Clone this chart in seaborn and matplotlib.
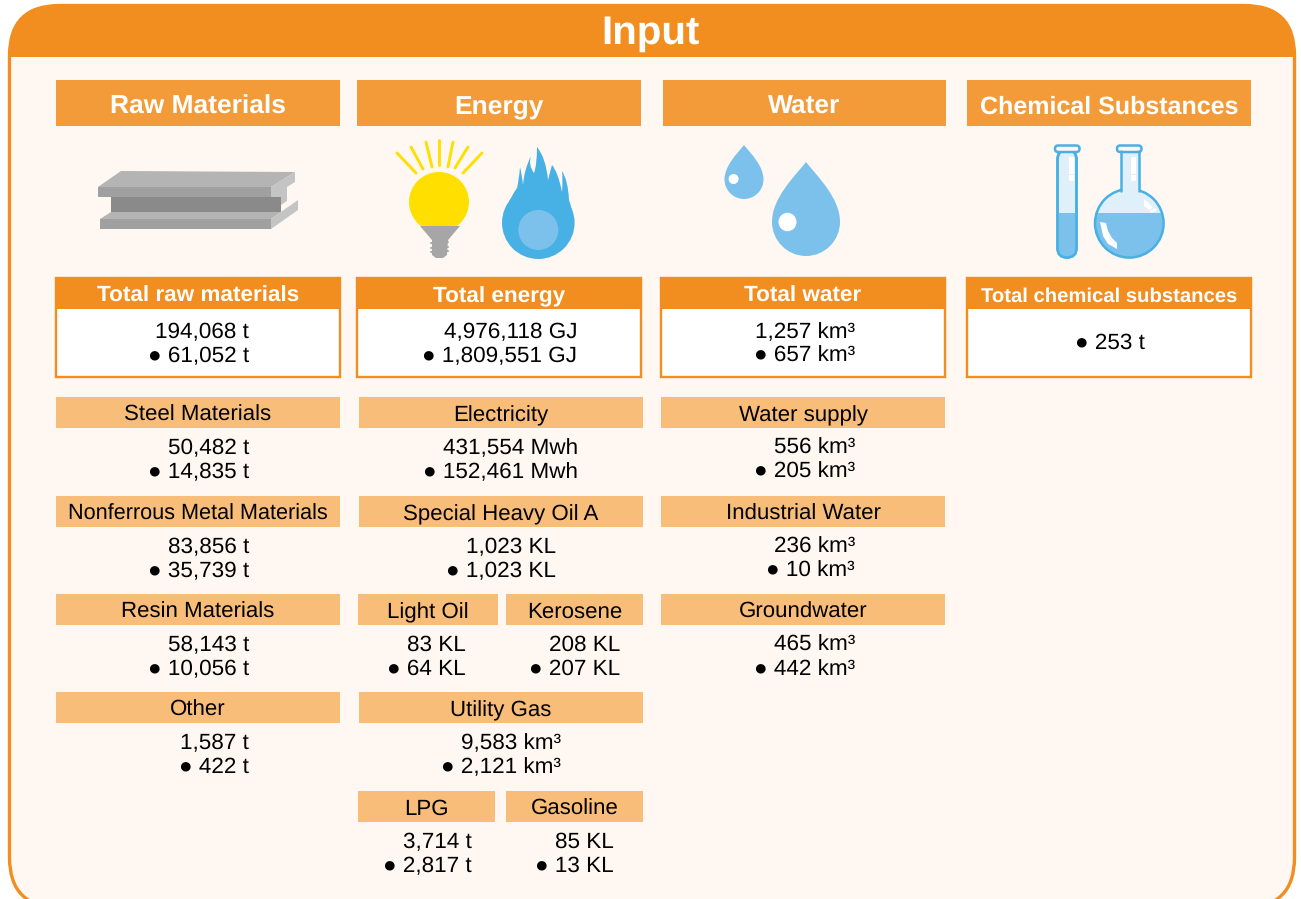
"""
Input side of the material balance, drawn as a panel of labelled figures
"""
import matplotlib.pyplot as plt
from matplotlib.patches import Circle, Ellipse, FancyBboxPatch, PathPatch, Polygon, Rectangle
from matplotlib.path import Path
import seaborn as sns

# text and values
title = 'Input'
section_names = ['Raw Materials', 'Energy', 'Water', 'Chemical Substances']
total_names = ['Total raw materials', 'Total energy', 'Total water', 'Total chemical substances']
total_all = ['194,068 t', '4,976,118 GJ', '1,257 km³', None]
total_marked = ['61,052 t', '1,809,551 GJ', '657 km³', '253 t']

raw_names = ['Steel Materials', 'Nonferrous Metal Materials', 'Resin Materials', 'Other']
raw_all = ['50,482 t', '83,856 t', '58,143 t', '1,587 t']
raw_marked = ['14,835 t', '35,739 t', '10,056 t', '422 t']

energy_names = ['Electricity', 'Special Heavy Oil A', 'Light Oil', 'Kerosene', 'Utility Gas', 'LPG', 'Gasoline']
energy_all = ['431,554 Mwh', '1,023 KL', '83 KL', '208 KL', '9,583 km³', '3,714 t', '85 KL']
energy_marked = ['152,461 Mwh', '1,023 KL', '64 KL', '207 KL', '2,121 km³', '2,817 t', '13 KL']

water_names = ['Water supply', 'Industrial Water', 'Groundwater']
water_all = ['556 km³', '236 km³', '465 km³']
water_marked = ['205 km³', '10 km³', '442 km³']

# layout in picture pixels
W, H = 1301, 899
section_x = [(56, 340), (357, 641), (663, 946), (967, 1251)]
total_x = [(56, 340), (357, 641), (661, 945), (967, 1251)]
total_right = [249, 577, 855, 1145]
total_size = [16.2, 16.2, 16.2, 14.6]
row_top = [397, 496, 594, 692]
raw_right = [249, 249, 249, 249]
raw_size = [16, 15.6, 16, 16]
energy_x = [(359, 643), (359, 643), (358, 498), (506, 643), (359, 643), (358, 495), (506, 643)]
energy_top = [397, 496, 594, 594, 692, 791, 791]
energy_right = [578, 556, 466, 620, 561, 472, 614]
water_right = [855, 855, 855]

sns.set_theme(style='white')
plt.rcParams['font.family'] = ['Liberation Sans', 'DejaVu Sans']
plt.rcParams['text.hinting'] = 'no_hinting'

orange, section_col, band_col = sns.color_palette(['#F28E1F', '#F49B39', '#F9BD7A'])
cream = '#FFF8F2'
sky = '#7BC1EB'
flame = '#47B1E6'
pale = '#DFF0FB'
yellow = '#FFDF00'

fig = plt.figure(figsize=(W / 100, H / 100), dpi=100)
ax = fig.add_axes([0, 0, 1, 1])
ax.set_xlim(0, W)
ax.set_ylim(H, 0)
ax.axis('off')


def box(x0, y0, x1, y1, color, **kw):
    return ax.add_patch(Rectangle((x0, y0), x1 - x0, y1 - y0, facecolor=color, edgecolor='none', **kw))


def band(x, top, name, size=16):
    box(x[0], top, x[1], top + 31, band_col)
    ax.text((x[0] + x[1]) / 2, top + 24, name, ha='center', va='baseline', fontsize=size, color='black')


def figures(right, top, value, marked, size=16.2):
    ax.text(right, top + 57, value, ha='right', va='baseline', fontsize=size, color='black')
    ax.text(right, top + 81, '● ' + marked, ha='right', va='baseline', fontsize=size, color='black')


def drop(cx, tip, cy, r):
    h = cy - tip
    verts = [(cx, tip), (cx + 0.35 * r, tip + 0.25 * h), (cx + r, cy - 0.4 * h), (cx + r, cy),
             (cx + r, cy + 0.55 * r), (cx + 0.55 * r, cy + r), (cx, cy + r),
             (cx - 0.55 * r, cy + r), (cx - r, cy + 0.55 * r), (cx - r, cy),
             (cx - r, cy - 0.4 * h), (cx - 0.35 * r, tip + 0.25 * h), (cx, tip)]
    codes = [Path.MOVETO] + [Path.CURVE4] * 12
    ax.add_patch(PathPatch(Path(verts, codes), facecolor=sky, edgecolor='none'))


# outer panel with the header clipped to its rounded corners
panel = FancyBboxPatch((9.5, 5.5), 1285, 902, boxstyle='round,pad=0,rounding_size=50',
                       facecolor=cream, edgecolor=orange, linewidth=2.4)
ax.add_patch(panel)
box(8, 4, 1296, 57, orange, clip_path=panel)
ax.text(650, 44, title, ha='center', va='baseline', fontsize=29, fontweight='bold', color='white')

# section headers and totals
for i, name in enumerate(section_names):
    x0, x1 = section_x[i]
    box(x0, 80, x1, 126, section_col)
    size = 18 if i == 3 else 19
    ax.text((x0 + x1) / 2, 114, name, ha='center', va='baseline', fontsize=size, fontweight='bold', color='white')

    x0, x1 = total_x[i]
    ax.add_patch(Rectangle((x0, 278), x1 - x0, 99, facecolor='white', edgecolor=orange, linewidth=1.7))
    box(x0 - 1, 277, x1 + 1, 309, orange)
    ax.text((x0 + x1) / 2, 302, total_names[i], ha='center', va='baseline', fontsize=total_size[i],
            fontweight='bold', color='white')
    if total_all[i] is None:
        ax.text(total_right[i], 349, '● ' + total_marked[i], ha='right', va='baseline', fontsize=16.2, color='black')
    else:
        ax.text(total_right[i], 338, total_all[i], ha='right', va='baseline', fontsize=16.2, color='black')
        ax.text(total_right[i], 362, '● ' + total_marked[i], ha='right', va='baseline', fontsize=16.2, color='black')

# breakdown rows
for i, name in enumerate(raw_names):
    band((56, 340), row_top[i], name, raw_size[i])
    figures(raw_right[i], row_top[i], raw_all[i], raw_marked[i])

for i, name in enumerate(energy_names):
    band(energy_x[i], energy_top[i], name)
    figures(energy_right[i], energy_top[i], energy_all[i], energy_marked[i])

for i, name in enumerate(water_names):
    band((661, 945), row_top[i], name)
    figures(water_right[i], row_top[i], water_all[i], water_marked[i])

# steel beam icon
for pts, col in [
    ([(111, 197), (281, 197), (281, 212), (111, 212)], '#8A8A8A'),
    ([(271, 190), (287, 180), (287, 201), (281, 205), (281, 197), (271, 197)], '#C4C4C4'),
    ([(98, 187), (121, 171), (295, 172), (271, 187)], '#B4B4B4'),
    ([(98, 187), (271, 187), (271, 197), (98, 197)], '#A0A0A0'),
    ([(271, 187), (295, 172), (295, 182), (271, 197)], '#C4C4C4'),
    ([(100, 219), (111, 212), (281, 212), (298, 200), (271, 219)], '#B4B4B4'),
    ([(100, 219), (271, 219), (271, 229), (100, 229)], '#A0A0A0'),
    ([(271, 219), (298, 200), (298, 210), (271, 229)], '#C4C4C4'),
]:
    ax.add_patch(Polygon(pts, closed=True, facecolor=col, edgecolor='none'))

# light bulb icon
rays = [((397, 153), (416, 173)), ((411, 147), (423, 169)), ((426, 142), (432, 167)), ((439, 140), (439, 165)),
        ((453, 142), (448, 167)), ((468, 147), (455, 168)), ((482, 153), (463, 173))]
for a, b in rays:
    ax.plot([a[0], b[0]], [a[1], b[1]], color=yellow, linewidth=2.1, solid_capstyle='round')
clip = Rectangle((400, 165), 80, 59, transform=ax.transData)
ax.add_patch(Circle((439, 202), 30, facecolor=yellow, edgecolor='none', clip_path=clip))
ax.add_patch(Polygon([(420, 226), (460, 226), (448, 240), (447, 255), (443, 258), (436, 258), (432, 255), (432, 240)],
                     closed=True, facecolor='#A6A6A6', edgecolor='none'))
for y in [243, 248, 252]:
    ax.plot([431, 448], [y, y - 1], color='#A6A6A6', linewidth=1.4, solid_capstyle='round')

# flame icon
ax.add_patch(Circle((538.3, 222.7), 36.3, facecolor=flame, edgecolor='none'))
flame_verts = [(503, 222), (505, 205), (517, 188), (519, 180), (520, 167), (522, 175), (523, 185),
               (524, 170), (531, 156), (528, 165), (534, 173), (537, 165), (537, 147),
               (546, 158), (548, 180), (550, 172), (552, 165), (558, 172), (562, 192),
               (563, 180), (562, 171), (568, 180), (569, 200), (572, 208), (574, 222)]
flame_codes = [Path.MOVETO] + [Path.CURVE3] * 24
ax.add_patch(PathPatch(Path(flame_verts, flame_codes), facecolor=flame, edgecolor='none'))
ax.add_patch(Circle((538.3, 230), 20, facecolor=sky, edgecolor='none'))

# water drops icon
drop(744, 145, 179.5, 19.5)
drop(806, 162, 222, 34)
ax.add_patch(Circle((733.6, 179), 5, facecolor='white', edgecolor='none'))
ax.add_patch(Ellipse((787.5, 222), 18, 18.5, facecolor='white', edgecolor='none'))

# test tube icon
tube = FancyBboxPatch((1057.5, 150), 19, 107.5, boxstyle='round,pad=0,rounding_size=9.5',
                      facecolor=pale, edgecolor=flame, linewidth=1.8)
ax.add_patch(tube)
box(1057, 213.3, 1077, 259, sky, clip_path=tube)
ax.add_patch(FancyBboxPatch((1057.5, 150), 19, 107.5, boxstyle='round,pad=0,rounding_size=9.5',
                            facecolor='none', edgecolor=flame, linewidth=1.8))
ax.add_patch(FancyBboxPatch((1055, 145.5), 24.5, 6.5, boxstyle='round,pad=0,rounding_size=3.2',
                            facecolor=cream, edgecolor=flame, linewidth=1.8))
box(1069, 157, 1074, 174, 'white')
box(1069, 175, 1074, 181, 'white')

# flask icon
bulb = Circle((1129.3, 223.3), 34.3, facecolor=pale, edgecolor='none')
ax.add_patch(bulb)
box(1090, 213.3, 1170, 260, sky, clip_path=bulb)
ax.add_patch(Circle((1129.3, 223.3), 34.3, facecolor='none', edgecolor=flame, linewidth=1.8))
box(1120.5, 150, 1138.5, 193, pale)
ax.plot([1120.5, 1120.5], [151, 190.5], color=flame, linewidth=1.8)
ax.plot([1138.5, 1138.5], [151, 190.5], color=flame, linewidth=1.8)
ax.add_patch(FancyBboxPatch((1117, 145.5), 24.5, 6.5, boxstyle='round,pad=0,rounding_size=3.2',
                            facecolor=cream, edgecolor=flame, linewidth=1.8))
box(1131, 157, 1136, 174, 'white')
box(1131, 175, 1136, 181, 'white')
ax.add_patch(Polygon([(1100, 222), (1106, 223), (1108, 231), (1112, 238), (1117, 243), (1117, 249), (1108, 244),
                      (1103, 236)], closed=True, facecolor='white', edgecolor='none'))
ax.add_patch(Polygon([(1144, 199), (1150, 204), (1153, 208), (1149, 210), (1144, 206)],
                     closed=True, facecolor='white', edgecolor='none'))
ax.add_patch(Polygon([(1150, 211), (1155, 208), (1157, 210), (1152, 213)],
                     closed=True, facecolor='white', edgecolor='none'))

fig.savefig('out.png', dpi=100, facecolor='white')
